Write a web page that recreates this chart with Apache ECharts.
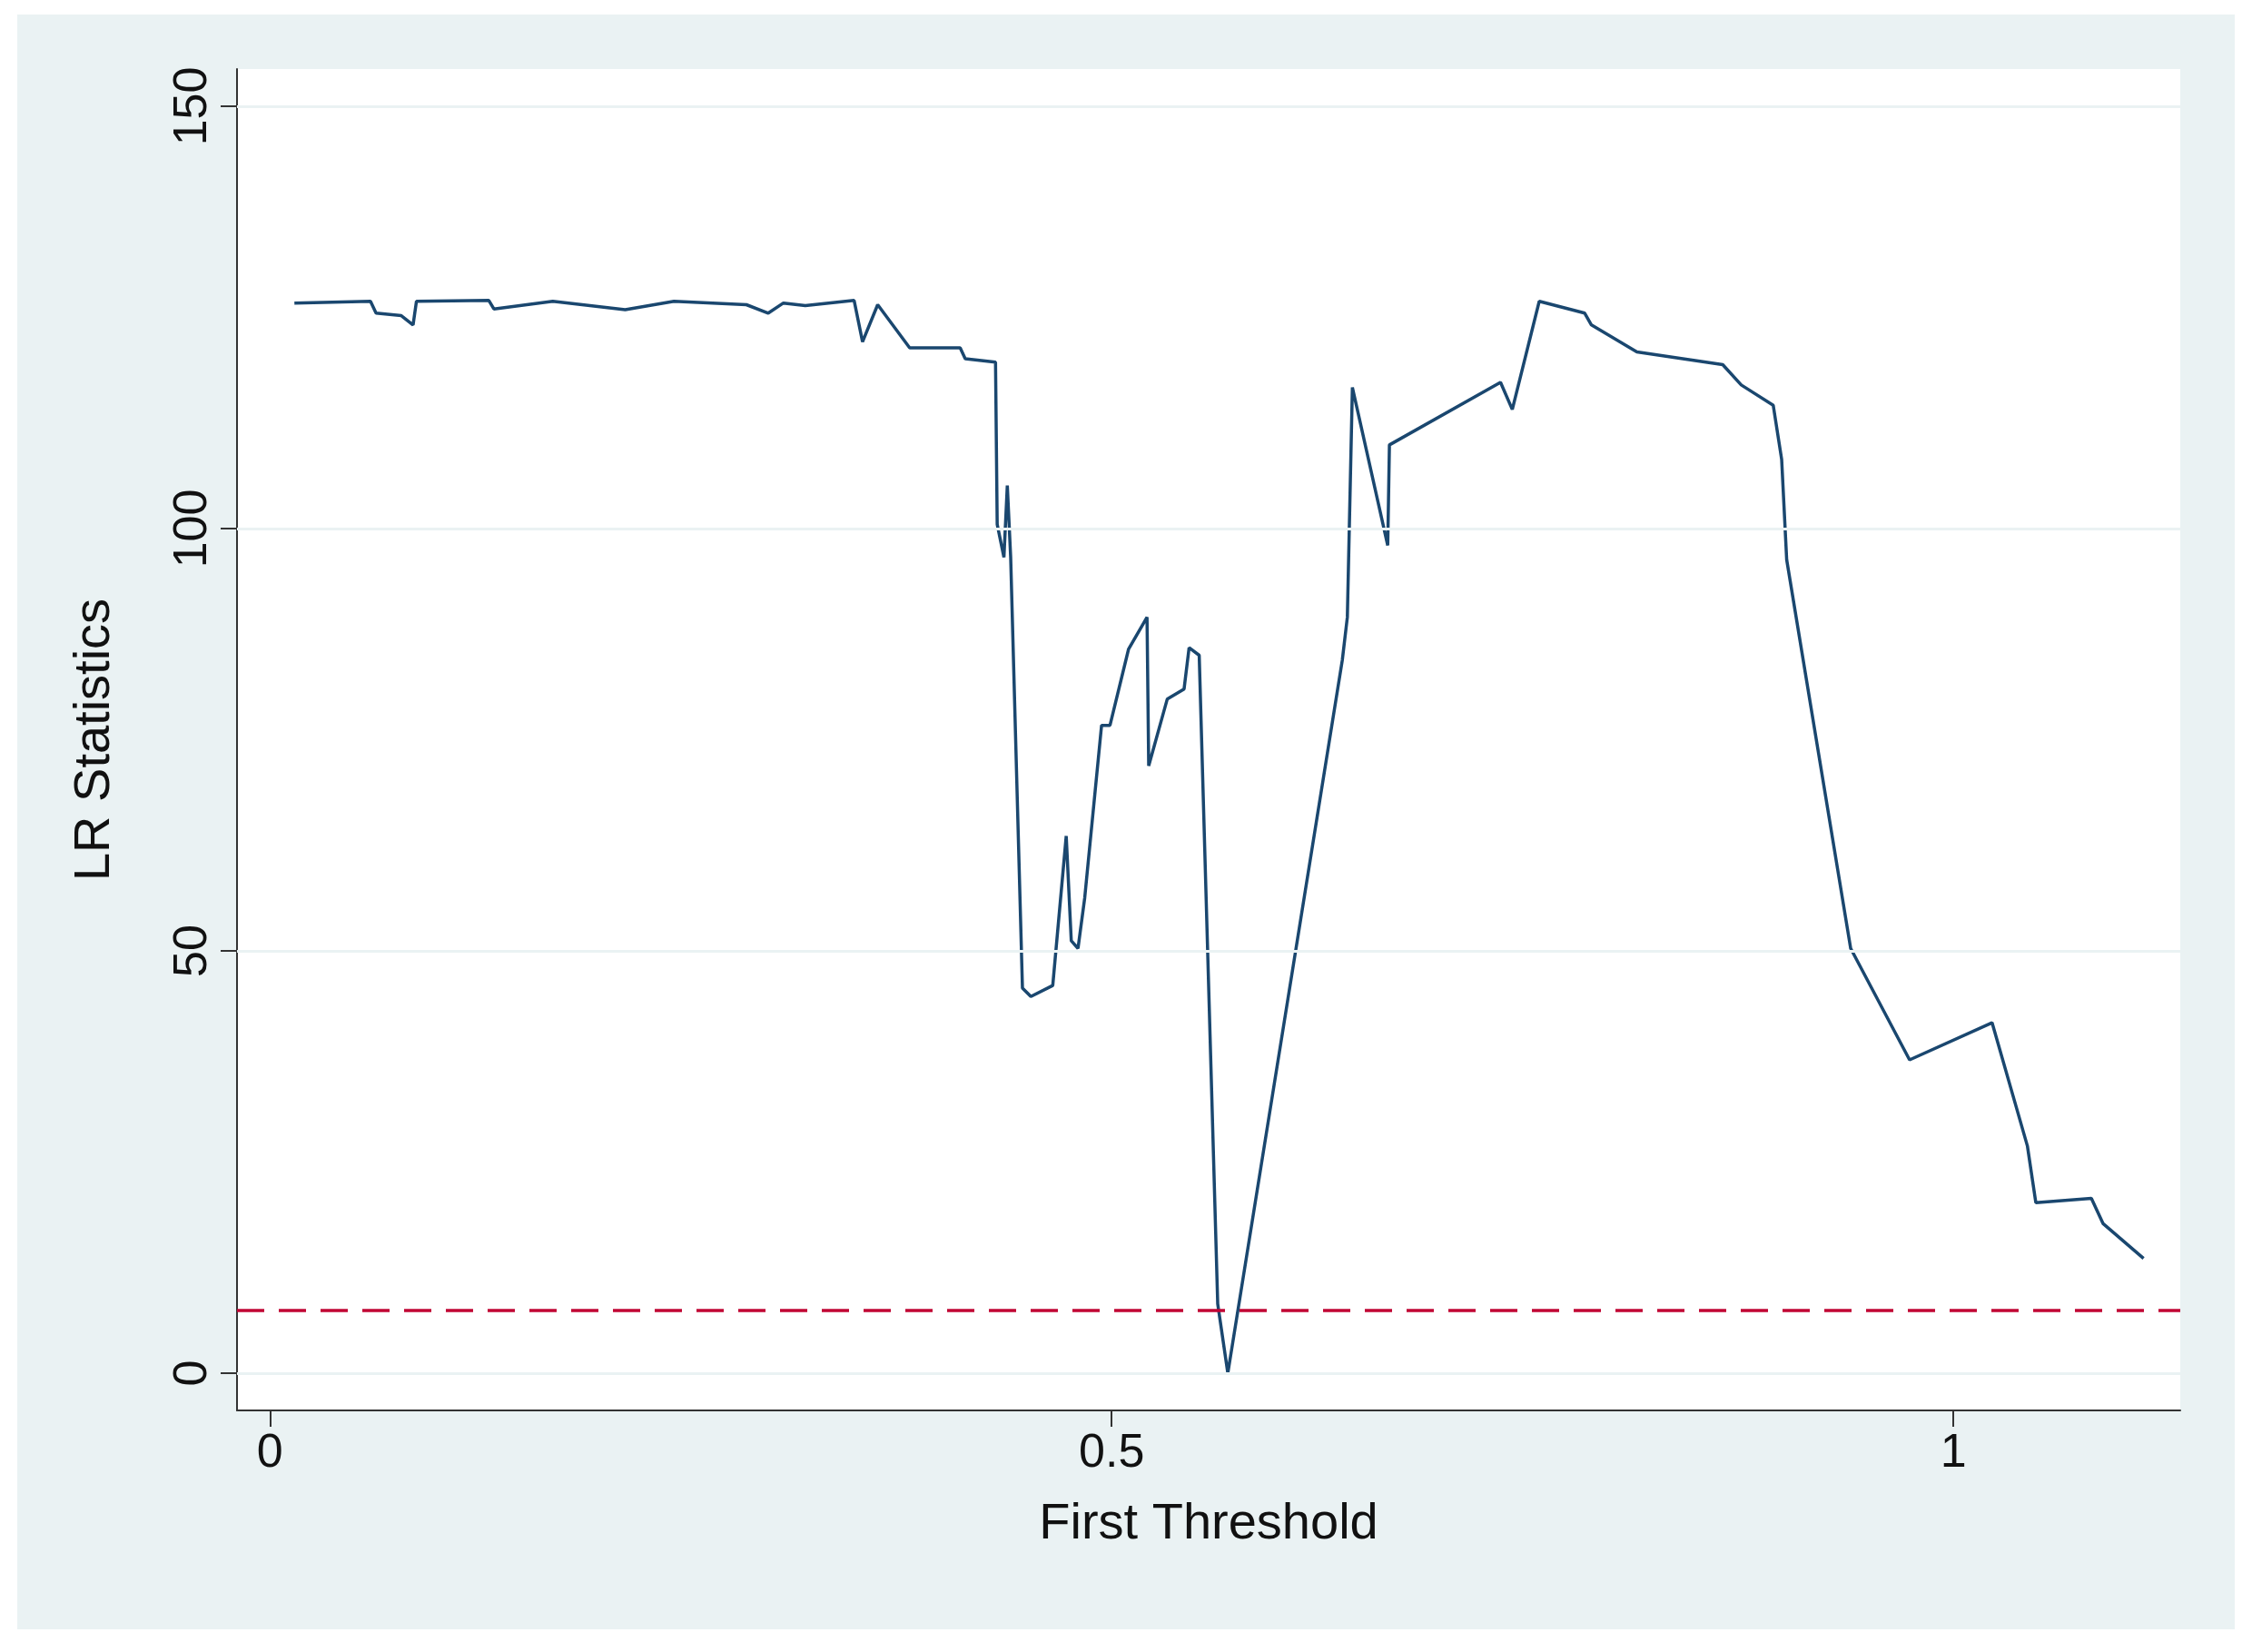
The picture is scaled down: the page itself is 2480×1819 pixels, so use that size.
<!DOCTYPE html>
<html>
<head>
<meta charset="utf-8"/>
<title>LR Statistics</title>
<script src="https://cdn.jsdelivr.net/npm/echarts@6/dist/echarts.min.js"></script>
<style>
    html, body { margin: 0; padding: 0; background: #ffffff; }
    #frame { position: absolute; left: 19px; top: 16px; width: 2442px; height: 1778px; background: #eaf2f3; }
    #chart { position: absolute; left: 0; top: 0; width: 2480px; height: 1819px; }
</style>
</head>
<body>
<div id="frame"></div>
<div id="chart"></div>
<script>
// threshold values and LR statistics
var thresholds = [0.0145, 0.0597, 0.063, 0.078, 0.085, 0.087, 0.13, 0.133, 0.168, 0.211, 0.24, 0.283, 0.296, 0.305, 0.318,
    0.347, 0.352, 0.361, 0.38, 0.41, 0.413, 0.431, 0.432, 0.436, 0.438, 0.44, 0.447, 0.452, 0.465, 0.473, 0.476, 0.48,
    0.484, 0.494, 0.499, 0.51, 0.521, 0.522, 0.533, 0.543, 0.546, 0.552, 0.563, 0.569, 0.637, 0.64, 0.643, 0.664, 0.665,
    0.731, 0.738, 0.754, 0.781, 0.785, 0.812, 0.863, 0.874, 0.893, 0.898, 0.901, 0.939, 0.974, 1.023, 1.044, 1.049,
    1.082, 1.089, 1.113];
var lrStats = [126.7, 126.9, 125.5, 125.2, 124.1, 126.9, 127, 126, 126.9, 125.9, 126.9, 126.5, 125.5, 126.7, 126.4,
    127, 122.1, 126.5, 121.4, 121.4, 120.1, 119.7, 100.5, 96.6, 105.1, 96.6, 45.6, 44.6, 45.9, 63.6, 51.2, 50.3,
    56.3, 76.7, 76.7, 85.7, 89.5, 71.9, 79.8, 81, 85.9, 85, 8.2, 0, 84.4, 89.5, 116.7, 98, 109.9,
    117.3, 114.1, 126.9, 125.5, 124.1, 120.9, 119.4, 117, 114.6, 108.2, 96.3, 50.3, 37.1, 41.5, 26.9, 20.2,
    20.7, 17.7, 13.6];
var critical = 7.5;
var xTicks = [0, 0.5, 1];
var yTicks = [0, 50, 100, 150];

var chart = echarts.init(document.getElementById('chart'));
var font = 'Liberation Sans, Arial, sans-serif';
var axisCol = '#333333';

chart.setOption({
    animation: false,
    grid: { left: 261, right: 79, top: 76, bottom: 266, backgroundColor: '#ffffff', show: true, borderWidth: 0 },
    xAxis: {
        type: 'value', min: -0.0196, max: 1.1348,
        name: 'First Threshold', nameLocation: 'middle', nameGap: 98,
        nameTextStyle: { fontFamily: font, fontSize: 56, color: '#111' },
        axisLine: { show: true, onZero: false, lineStyle: { color: axisCol, width: 2 } },
        axisTick: { show: true, customValues: xTicks, length: 18, lineStyle: { color: axisCol, width: 2 } },
        axisLabel: { customValues: xTicks, fontFamily: font, fontSize: 52, color: '#111', margin: 22 },
        splitLine: { show: false }
    },
    yAxis: {
        type: 'value', min: -4.4, max: 154.4,
        name: 'LR Statistics', nameLocation: 'middle', nameGap: 128,
        nameTextStyle: { fontFamily: font, fontSize: 56, color: '#111' },
        axisLine: { show: true, onZero: false, lineStyle: { color: axisCol, width: 2 } },
        axisTick: { show: true, customValues: yTicks, length: 18, lineStyle: { color: axisCol, width: 2 } },
        axisLabel: { customValues: yTicks, rotate: 90, fontFamily: font, fontSize: 52, color: '#111', margin: 22 },
        splitLine: { show: false }
    },
    series: [
        {
            type: 'line', silent: true, symbol: 'none', data: [],
            markLine: {
                symbol: 'none', silent: true, label: { show: false },
                lineStyle: { color: '#eaf2f3', width: 3, type: 'solid' },
                data: yTicks.map(function (v) { return { yAxis: v }; })
            }
        },
        {
            type: 'line', symbol: 'none',
            data: thresholds.map(function (x, i) { return [x, lrStats[i]]; }),
            lineStyle: { color: '#1a476f', width: 3.5 }
        },
        {
            type: 'line', silent: true, symbol: 'none', data: [],
            markLine: {
                symbol: 'none', silent: true, label: { show: false },
                lineStyle: { color: '#c10534', width: 3.5, type: [30, 16] },
                data: [{ yAxis: critical }]
            }
        }
    ]
});
</script>
</body>
</html>
